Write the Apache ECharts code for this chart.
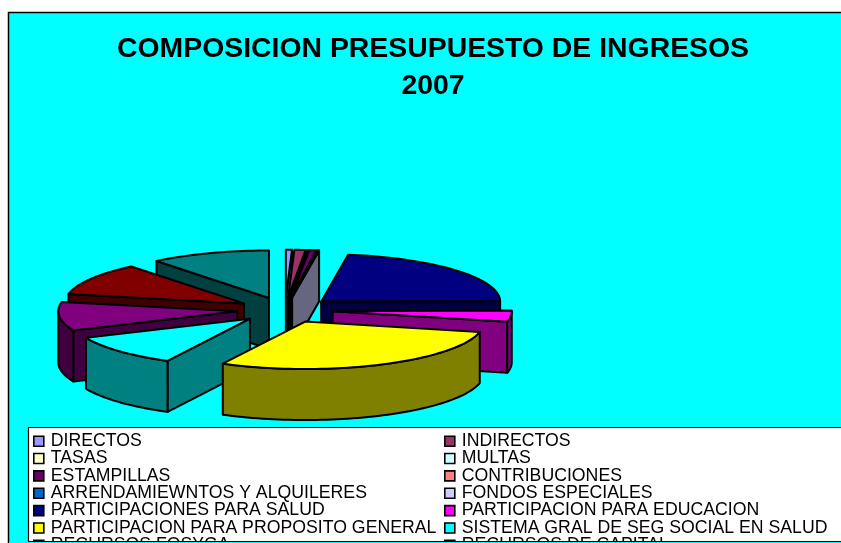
<!DOCTYPE html>
<html><head><meta charset="utf-8">
<script src="https://cdn.jsdelivr.net/npm/echarts@6/dist/echarts.min.js"></script>
<style>html,body{margin:0;padding:0;background:#fff;overflow:hidden}#c{width:841px;height:543px}</style>
</head><body><div id="c"></div>
<script>
const titleText = 'COMPOSICION PRESUPUESTO DE INGRESOS\n2007';
const categories = ['DIRECTOS','INDIRECTOS','TASAS','MULTAS','ESTAMPILLAS','CONTRIBUCIONES','ARRENDAMIEWNTOS Y ALQUILERES','FONDOS ESPECIALES','PARTICIPACIONES PARA SALUD','PARTICIPACION PARA EDUCACION','PARTICIPACION PARA PROPOSITO GENERAL','SISTEMA GRAL DE SEG SOCIAL EN SALUD','RECURSOS FOSYGA','RECURSOS DE CAPITAL','OTROS'];
const values = [0.55,1.0,0.04,0.04,0.65,0.04,0.04,0.04,22.3,3.8,29,10.8,9.7,11,10.8];
const colors = ['#9999FF','#993366','#FFFFCC','#CCFFFF','#660066','#FF8080','#0066CC','#CCCCFF','#000080','#FF00FF','#FFFF00','#00FFFF','#800080','#800000','#008080'];
const legendLeft = categories.slice(0,14).filter((_,i)=>i%2===0);
const legendRight = categories.slice(0,14).filter((_,i)=>i%2===1);
// back-to-front paint order (indexes into categories)
const paintOrder = [14,13,12,11,0,1,2,3,4,5,6,7,8,9,10];

const total = values.reduce((a,b)=>a+b,0);
const CX=285, CY=310, RX=179, RY=47.5, DEPTH=51, EXPLODE=48;
function darken(hex){
  const n=parseInt(hex.slice(1),16);
  const f=v=>Math.round(v/2);
  return 'rgb('+f(n>>16&255)+','+f(n>>8&255)+','+f(n&255)+')';
}
function renderSlice(index){
  return function(params, api){
    let before=0;
    for(let i=0;i<index;i++) before+=values[i];
    const val=api.value(0);
    const a0=before/total*2*Math.PI, a1=(before+val)/total*2*Math.PI, mid=(a0+a1)/2;
    const ox=CX+EXPLODE*Math.sin(mid), oy=CY-EXPLODE*RY/RX*Math.cos(mid);
    const pt=(a,d)=>[ox+RX*Math.sin(a), oy-RY*Math.cos(a)+(d||0)];
    const arc=(s,e,d)=>{const n=Math.max(2,Math.ceil((e-s)/0.03));const r=[];for(let i=0;i<=n;i++)r.push(pt(s+(e-s)*i/n,d));return r;};
    const top=colors[index], side=darken(colors[index]);
    const sty=f=>({fill:f,stroke:'#000',lineWidth:2,lineJoin:'round'});
    const kids=[];
    const wall=a=>[[ox,oy],pt(a),pt(a,DEPTH),[ox,oy+DEPTH]];
    if(Math.sin(a0)<0) kids.push({type:'polygon',shape:{points:wall(a0)},style:sty(side)});
    if(Math.sin(a1)>0) kids.push({type:'polygon',shape:{points:wall(a1)},style:sty(side)});
    const s=Math.max(a0,Math.PI/2), e=Math.min(a1,Math.PI*1.5);
    if(e>s) kids.push({type:'polygon',shape:{points:arc(s,e,0).concat(arc(s,e,DEPTH).reverse())},style:sty(side)});
    kids.push({type:'polygon',shape:{points:[[ox,oy]].concat(arc(a0,a1,0))},style:sty(top)});
    return {type:'group',children:kids};
  };
}
const series = paintOrder.map((idx,rank)=>({
  type:'custom', name:categories[idx], coordinateSystem:'none', z:5+rank, silent:true,
  itemStyle:{color:colors[idx]}, renderItem:renderSlice(idx), data:[[values[idx]]], animation:false
}));
const legendBase = {orient:'vertical', top:431, height:300, width:410, itemWidth:10, itemHeight:10, itemGap:-3, padding:0, icon:'rect', selectedMode:false, z:30,
  itemStyle:{borderColor:'#000',borderWidth:1.6},
  textStyle:{fontFamily:'"Liberation Sans"',fontSize:17.7,color:'#000',lineHeight:17.35,padding:[0,0,3,2]}};
const chart = echarts.init(document.getElementById('c'),null,{renderer:'canvas'});
chart.setOption({
  animation:false, backgroundColor:'#fff',
  title:{text:titleText,left:428,top:26,textAlign:'center',z:40,
    textStyle:{fontFamily:'"Liberation Sans"',fontWeight:'bold',fontSize:28.4,color:'#000',lineHeight:37}},
  legend:[Object.assign({},legendBase,{left:33,data:legendLeft}),Object.assign({},legendBase,{left:444,data:legendRight})],
  graphic:[
    {type:'rect',z:0,shape:{x:8.5,y:12.5,width:900,height:600},style:{fill:'#00FFFF',stroke:'#000',lineWidth:1.5},silent:true},
    {type:'rect',z:2,shape:{x:28.5,y:427.5,width:900,height:114},style:{fill:'#fff',stroke:'#000',lineWidth:1.2},silent:true},
    {type:'rect',z:100,zlevel:1,shape:{x:9,y:542,width:900,height:3},style:{fill:'#00FFFF'},silent:true},
    {type:'line',z:101,zlevel:1,shape:{x1:28,y1:541.5,x2:900,y2:541.5},style:{stroke:'#000',lineWidth:1.2},silent:true}
  ],
  series
});
</script></body></html>
